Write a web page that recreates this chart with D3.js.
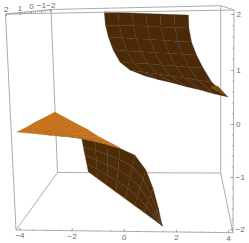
<!DOCTYPE html>
<html>
<head>
<meta charset="utf-8">
<script src="https://cdn.jsdelivr.net/npm/d3@7/dist/d3.min.js"></script>
<style>
    html, body { margin: 0; padding: 0; background: #fff; }
    svg { display: block; }
</style>
</head>
<body>
<div id="chart"></div>
<script>
// tick labels
const xTicks = [-4, -2, 0, 2, 4];
const yTicks = [2, 1, 0, -1, -2];
const zTicks = [-2, -1, 0, 1, 2];

// upper sheet: one row per mesh line (x value, height value)
const upperX = [
    [-0.75, -0.22, 0.32, 0.85, 1.39, 1.93, 2.48],
    [-0.70, -0.17, 0.37, 0.90, 1.43, 1.97, 2.50],
    [-0.59, -0.06, 0.48, 1.01, 1.54, 2.07, 2.60],
    [-0.41, 0.12, 0.66, 1.20, 1.74, 2.25, 2.79],
    [-0.14, 0.39, 0.91, 1.45, 1.99, 2.50, 3.04],
    [0.24, 0.76, 1.28, 1.79, 2.33, 2.85, 3.37],
    [0.82, 1.35, 1.89, 2.41, 2.95, 3.46, 4.00]
];
const upperZ = [
    [2.04, 2.03, 2.02, 2.01, 2.00, 1.99, 1.98],
    [1.80, 1.79, 1.79, 1.78, 1.77, 1.76, 1.75],
    [1.59, 1.575, 1.56, 1.545, 1.53, 1.51, 1.50],
    [1.36, 1.34, 1.33, 1.31, 1.30, 1.28, 1.27],
    [1.14, 1.125, 1.11, 1.09, 1.07, 1.05, 1.04],
    [1.00, 0.96, 0.93, 0.89, 0.85, 0.81, 0.78],
    [0.89, 0.82, 0.76, 0.69, 0.63, 0.56, 0.50]
];
const tipX = [3.31, 3.43, 3.62, 4.00];
const tipZ = [0.67, 0.72, 0.70, 0.50];

// lit part of the lower sheet
const orangeX = [
    [-4.10, -3.67, -3.27, -2.87, -2.45, -2.02, -1.61],
    [-3.73, -3.31, -2.91, -2.49, -2.08, -1.66, -1.25],
    [-3.37, -2.95, -2.53, -2.12, -1.72, -1.30, -0.88],
    [-3.00, -2.58, -2.16, -1.75, -1.35, -0.93, -0.51],
    [-2.64, -2.22, -1.79, -1.37, -0.99, -0.57, -0.14]
];
const orangeZ = [
    [-0.15, -0.17, -0.19, -0.21, -0.23, -0.25, -0.27],
    [-0.06, -0.10, -0.14, -0.18, -0.23, -0.27, -0.32],
    [0.04, -0.03, -0.09, -0.16, -0.23, -0.30, -0.36],
    [0.13, 0.04, -0.05, -0.14, -0.23, -0.32, -0.41],
    [0.22, 0.11, 0, -0.11, -0.23, -0.34, -0.45]
];

// dark part of the lower sheet
const lowerX = [
    [-1.61, -1.10, -0.60, -0.14, 0.43, 0.85, 1.12, 1.33, 1.48],
    [-1.55, -1.08, -0.62, -0.18, 0.34, 0.74, 1.03, 1.28, 1.48],
    [-1.49, -1.05, -0.63, -0.22, 0.25, 0.63, 0.95, 1.23, 1.48],
    [-1.42, -1.03, -0.64, -0.26, 0.15, 0.52, 0.86, 1.18, 1.48],
    [-1.36, -1.01, -0.65, -0.30, 0.06, 0.41, 0.77, 1.12, 1.48]
];
const lowerZ = [
    [-0.28, -0.33, -0.39, -0.46, -0.59, -0.87, -1.21, -1.60, -1.94],
    [-0.44, -0.50, -0.58, -0.67, -0.80, -1.04, -1.33, -1.65, -1.94],
    [-0.59, -0.68, -0.77, -0.87, -1.00, -1.21, -1.45, -1.70, -1.94],
    [-0.75, -0.85, -0.96, -1.08, -1.21, -1.38, -1.56, -1.76, -1.94],
    [-0.90, -1.03, -1.16, -1.29, -1.42, -1.55, -1.68, -1.81, -1.94]
];

const width = 249;
const height = 243;

const svg = d3.select("#chart")
    .append("svg")
    .attr("width", width)
    .attr("height", height);

const xScale = d3.scaleLinear().domain([-4, 4]).range([19.5, 228]);
// the box is seen in perspective, so these two are not evenly spaced
const zScale = d3.scaleLinear().domain(zTicks).range([229, 177, 124, 70, 14]);
const yScale = d3.scaleLinear().domain(yTicks).range([5.7, 19.5, 31, 41, 50.5]);

const boxColor = "#adadad";
const textColor = "#666";
const tickFormat = d3.format("d");

function drawEdges(edges) {
    svg.append("g")
        .selectAll("line")
        .data(edges)
        .enter()
        .append("line")
        .attr("x1", d => d[0])
        .attr("y1", d => d[1])
        .attr("x2", d => d[2])
        .attr("y2", d => d[3])
        .attr("stroke", boxColor)
        .attr("stroke-width", 1);
}

// box, back edges first so the surfaces hide them
drawEdges([
    [51, 9.5, 57.5, 172.5],
    [57.5, 172.5, 220.7, 173],
    [220.7, 173, 220.7, 5.7],
    [51, 9.5, 220.7, 5.7],
    [16, 230, 57.5, 172.5],
    [233, 232.7, 220.7, 173]
]);

function drawSheet(rowsX, rowsZ, fill, mesh) {
    const point = (r, c) => [xScale(rowsX[r][c]), zScale(rowsZ[r][c])];
    const line = d3.line();
    const cells = [];
    for (let r = 0; r < rowsX.length - 1; r++) {
        for (let c = 0; c < rowsX[r].length - 1; c++) {
            cells.push([point(r, c), point(r, c + 1), point(r + 1, c + 1), point(r + 1, c)]);
        }
    }
    svg.append("g")
        .selectAll("path")
        .data(cells)
        .enter()
        .append("path")
        .attr("d", d => line(d) + "Z")
        .attr("fill", fill)
        .attr("stroke", mesh)
        .attr("stroke-width", 0.3);
}

drawSheet(upperX, upperZ, "#4c2a07", "#3f3122");
svg.append("path")
    .attr("d", d3.line()(tipX.map((x, i) => [xScale(x), zScale(tipZ[i])])) + "Z")
    .attr("fill", "#7a4a12");
drawSheet(lowerX, lowerZ, "#4f2c08", "#433526");
drawSheet(orangeX, orangeZ, "#cc7319", "#8f5a22");

// front edges of the box
drawEdges([
    [5.5, 14, 16, 230],
    [5.5, 14, 234, 10],
    [51, 9.5, 5.5, 14],
    [221, 5.7, 234, 10],
    [16, 230, 233, 232.7],
    [234, 10, 233, 232.7]
]);

function styleAxis(g, angle) {
    g.select(".domain").remove();
    g.selectAll("line").attr("stroke", "#8a8a8a").attr("stroke-width", 0.7);
    g.selectAll("text")
        .attr("fill", textColor)
        .attr("font-family", "'Liberation Sans', sans-serif")
        .attr("font-size", 8)
        .attr("transform", `rotate(${angle})`);
}

// bottom axis
svg.append("g")
    .attr("transform", "rotate(0.72 16 230) translate(0,230)")
    .call(d3.axisBottom(xScale).tickValues(d3.range(-4, 4.01, 0.5)).tickSize(-1).tickFormat(""))
    .call(g => styleAxis(g, 0));
svg.append("g")
    .attr("transform", "rotate(0.72 16 230) translate(0,230)")
    .call(d3.axisBottom(xScale).tickValues(xTicks).tickSize(-2.5).tickPadding(2.5).tickFormat(tickFormat))
    .call(g => styleAxis(g, -0.72));

// right axis
svg.append("g")
    .attr("transform", "rotate(0.26 234 10) translate(234,0)")
    .call(d3.axisRight(zScale).tickValues(d3.range(-2, 2.01, 0.2)).tickSize(-1.5).tickFormat(""))
    .call(g => styleAxis(g, 0));
svg.append("g")
    .attr("transform", "rotate(0.26 234 10) translate(234,0)")
    .call(d3.axisRight(zScale).tickValues(zTicks).tickSize(-3).tickPadding(2.5).tickFormat(tickFormat))
    .call(g => styleAxis(g, -0.26));

// top left axis
svg.append("g")
    .attr("transform", "rotate(-5.6 5.5 14) translate(0,14)")
    .call(d3.axisTop(yScale).tickValues(d3.range(-2, 2.01, 0.2)).tickSize(-1.5).tickFormat(""))
    .call(g => styleAxis(g, 0));
svg.append("g")
    .attr("transform", "rotate(-5.6 5.5 14) translate(0,14)")
    .call(d3.axisTop(yScale).tickValues(yTicks).tickSize(-2.5).tickPadding(2).tickFormat(tickFormat))
    .call(g => styleAxis(g, 5.6));
</script>
</body>
</html>
